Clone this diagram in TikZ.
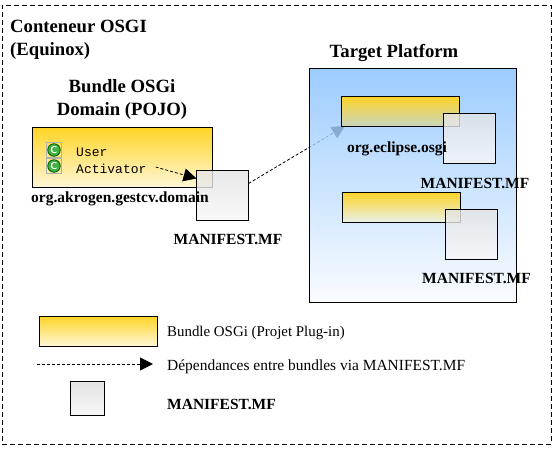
\documentclass[tikz,border=0pt]{standalone}
\usepackage{fontspec}
\setmainfont{Liberation Serif}
\setmonofont{Liberation Mono}
\usetikzlibrary{arrows.meta,positioning,calc}
\pgfdeclarelayer{under}
\pgfsetlayers{under,main}
\definecolor{gold}{RGB}{255,212,38}
\definecolor{paleY}{RGB}{255,247,214}
\tikzset{
  bundlebox/.style={draw=black,line width=0.9pt,minimum width=#1,minimum height=30pt,inner sep=0,outer sep=0,top color=gold,bottom color=paleY,shading angle=0},
  bundlebox/.default=118pt,
  manifestbox/.style={draw=black,line width=0.9pt,inner sep=0,outer sep=0,minimum width=52pt,minimum height=50pt,top color=gray!22,bottom color=white!97!black,fill opacity=0.8},
  title/.style={font=\bfseries\fontsize{18.7}{23}\selectfont,align=center,inner sep=0},
  bold/.style={font=\bfseries\fontsize{15.5}{18}\selectfont,inner sep=0},
  legend/.style={font=\fontsize{14.9}{18}\selectfont,inner sep=0,anchor=west},
  classname/.style={font=\ttfamily\fontsize{13}{15}\selectfont,inner sep=0,anchor=west},
  iconbox/.style={draw=gray!60,line width=0.7pt,minimum size=15.5pt,inner sep=0,outer sep=0},
  classicon/.style={circle,draw=green!35!black,line width=0.8pt,fill=green!60!black!75,minimum size=12.5pt,inner sep=0,text=white,font=\sffamily\bfseries\fontsize{10}{10}\selectfont},
  dep/.style={line width=0.8pt,dash pattern=on 3pt off 2pt},
  bigtip/.style={-{Triangle[length=13pt,width=13pt]}}
}
\begin{document}
\begin{tikzpicture}[x=1pt,y=-1pt]
\useasboundingbox (0,0) rectangle (557,451);
% outer container
\node[draw=black,line width=0.9pt,dash pattern=on 5pt off 3pt,minimum width=549pt,minimum height=439pt,inner sep=0,anchor=north west] (outer) at (2,5) {};
% left bundle
\node[bundlebox=180pt,minimum height=60pt,anchor=north west] (b1) at (32,127) {};
\node[iconbox] (i1) at (54,150) {};
\node[iconbox] (i2) at (54,166) {};
\node[classicon] (c1) at (i1) {C};
\node[classicon] (c2) at (i2) {C};
\node[classname] (user) at (76,152) {User};
\node[classname] (act) at (76,169) {Activator};
\node[manifestbox,anchor=north west] (m1) at (196.5,170.5) {};
\draw[dep,bigtip] ([xshift=9pt,yshift=2pt]act.east) -- ([yshift=17pt]m1.west);
% platform
\node[draw=black,line width=0.9pt,minimum width=207pt,minimum height=234pt,inner sep=0,outer sep=0,anchor=north west,top color={rgb,255:red,135;green,193;blue,255},bottom color={rgb,255:red,248;green,251;blue,255},fill opacity=0.82] (tp) at (309,68) {};
\node[bundlebox,anchor=north west,bottom color={rgb,255:red,200;green,214;blue,190}] (y2) at (341,96) {};
\node[bundlebox,anchor=north west,bottom color={rgb,255:red,232;green,240;blue,232}] (y3) at (342,192) {};
\node[manifestbox,anchor=north west] (m2) at (443,113) {};
\node[manifestbox,anchor=north west] (m3) at (445,209) {};
\begin{pgfonlayer}{under}
\draw[dep,bigtip] ([yshift=12pt]m1.east) -- ([xshift=4pt]y2.south west);
\end{pgfonlayer}
% titles
\node[title,align=left,anchor=north west] (t0) at (10,20) {Conteneur OSGI\\(Equinox)};
\node[title] (t1) at (122,99) {Bundle OSGi\\Domain (POJO)};
\node[title] (t2) at (394,53) {Target Platform};
% labels
\node[bold] (l1) at (120,199) {org.akrogen.gestcv.domain};
\node[bold] (l2) at (397,149) {org.eclipse.osgi};
\node[bold] (mf1) at (228,239) {MANIFEST.MF};
\node[bold] (mf2) at (475,183) {MANIFEST.MF};
\node[bold] (mf3) at (476.5,278) {MANIFEST.MF};
% legend
\node[bundlebox,anchor=north west,bottom color=paleY] (ly) at (39,316) {};
\node[legend] (lt1) at (167,333) {Bundle OSGi (Projet Plug-in)};
\coordinate (la) at (37,364);
\node[legend,font=\fontsize{15.45}{18}\selectfont] (lt2) at (167,367) {Dépendances entre bundles via MANIFEST.MF};
\coordinate (lb) at (153,364);
\draw[dep,bigtip] (la) -- (lb);
\node[manifestbox,minimum width=34pt,minimum height=34pt,fill opacity=1,anchor=north west] (lm) at (70,381) {};
\node[bold,anchor=west] (lt3) at (167,404) {MANIFEST.MF};
\end{tikzpicture}
\end{document}
